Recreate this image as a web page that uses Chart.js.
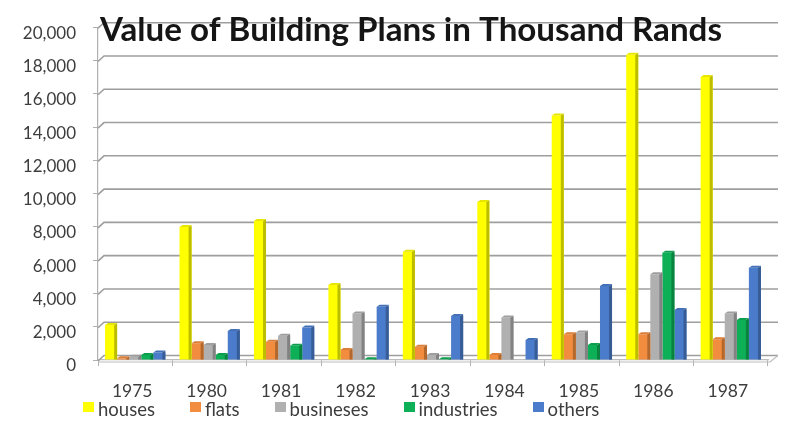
<!DOCTYPE html>
<html>
<head>
<meta charset="utf-8">
<script src="https://cdn.jsdelivr.net/npm/chart.js@4.4.0/dist/chart.umd.min.js"></script>
<style>
  html, body { margin: 0; padding: 0; background: #ffffff; }
  #wrap { position: relative; width: 794px; height: 428px; overflow: hidden; }
  #c { display: block; }
  #legend { position: absolute; left: 83px; top: 399px; display: flex; gap: 35px;
            font-family: Lato, sans-serif; font-size: 18.5px; line-height: 20px; color: #3d3d3d; white-space: nowrap; }
  #legend .item { display: flex; align-items: center; }
  #legend .box { display: inline-block; width: 11px; height: 10px; margin-right: 4px; position: relative; top: -2px; }
</style>
</head>
<body>
<div id="wrap">
  <canvas id="c" width="794" height="428"></canvas>
  <div id="legend"></div>
</div>
<script>
// ---- data ----
const chartTitle = 'Value of Building Plans in Thousand Rands';
const categories = ['1975', '1980', '1981', '1982', '1983', '1984', '1985', '1986', '1987'];
const seriesNames = ['houses', 'flats', 'busineses', 'industries', 'others'];
const houses     = [2100, 8000, 8350, 4500, 6500, 9500, 14700, 18350, 17000];
const flats      = [100, 1000, 1100, 600, 800, 300, 1550, 1550, 1250];
const businesses = [200, 900, 1450, 2800, 300, 2550, 1650, 5150, 2800];
const industries = [300, 300, 850, 50, 50, 0, 900, 6450, 2400];
const others     = [450, 1750, 1950, 3200, 2650, 1200, 4450, 3000, 5550];
const yTickValues = [0, 2000, 4000, 6000, 8000, 10000, 12000, 14000, 16000, 18000, 20000];
const seriesColors = ['#FFFF00', '#F28C3E', '#B0B0B0', '#0DB057', '#4A7CCB'];

const seriesData = [houses, flats, businesses, industries, others];

function shade(hex, f) {
  const n = parseInt(hex.slice(1), 16);
  const r = Math.round(((n >> 16) & 255) * f), g = Math.round(((n >> 8) & 255) * f), b = Math.round((n & 255) * f);
  return 'rgb(' + Math.min(255, r) + ',' + Math.min(255, g) + ',' + Math.min(255, b) + ')';
}

const D = 3, DY = 2;        // pseudo-3D depth of the columns
const WALL_DX = 6, WALL_DY = 4.5, WALL_EXT = 10; // back wall offset

const wallPlugin = {
  id: 'wall',
  beforeDatasetsDraw(chart) {
    const ctx = chart.ctx, ys = chart.scales.y, ca = chart.chartArea;
    ctx.save();
    ctx.strokeStyle = '#9e9e9e';
    ctx.lineWidth = 1.6;
    ys.ticks.forEach(t => {
      const p = ys.getPixelForValue(t.value);
      ctx.beginPath();
      ctx.moveTo(ca.left, p + 1);
      ctx.lineTo(ca.left + WALL_DX, p - WALL_DY);
      ctx.lineTo(ca.right + WALL_EXT, p - WALL_DY);
      ctx.stroke();
    });
    // floor right edge
    const p0 = ys.getPixelForValue(0);
    ctx.strokeStyle = '#bdbdbd';
    ctx.lineWidth = 1.2;
    ctx.beginPath();
    ctx.moveTo(ca.left, p0 + 2);
    ctx.lineTo(ca.right + 2, p0 + 2);
    ctx.lineTo(ca.right + WALL_EXT, p0 - WALL_DY);
    ctx.stroke();
    ctx.restore();
  }
};

const columnPlugin = {
  id: 'columns3d',
  afterDatasetsDraw(chart) {
    const ctx = chart.ctx;
    ctx.save();
    chart.data.datasets.forEach((ds, i) => {
      const meta = chart.getDatasetMeta(i);
      const col = seriesColors[i];
      meta.data.forEach((el, j) => {
        if (!ds.data[j]) return;
        const p = el.getProps(['x', 'y', 'base', 'width'], true);
        const l = p.x - p.width / 2, r = p.x + p.width / 2;
        // side face
        ctx.fillStyle = shade(col, 0.74);
        ctx.beginPath();
        ctx.moveTo(r - D, p.y);
        ctx.lineTo(r, p.y - DY);
        ctx.lineTo(r, p.base);
        ctx.lineTo(r - D, p.base);
        ctx.closePath();
        ctx.fill();
        // top face
        ctx.fillStyle = shade(col, 0.9);
        ctx.beginPath();
        ctx.moveTo(l, p.y);
        ctx.lineTo(l + D, p.y - DY);
        ctx.lineTo(r, p.y - DY);
        ctx.lineTo(r - D, p.y);
        ctx.closePath();
        ctx.fill();
      });
    });
    ctx.restore();
  }
};

const titlePlugin = {
  id: 'overTitle',
  afterDraw(chart) {
    const ctx = chart.ctx;
    ctx.save();
    ctx.font = 'bold 32px Lato, sans-serif';
    ctx.fillStyle = '#151515';
    ctx.textBaseline = 'alphabetic';
    const w = ctx.measureText(chartTitle).width;
    const target = 622;
    ctx.translate(100, 41);
    ctx.scale(target / w, 1);
    ctx.fillText(chartTitle, 0, 0);
    ctx.restore();
  }
};

const chart = new Chart(document.getElementById('c'), {
  type: 'bar',
  data: {
    labels: categories,
    datasets: seriesNames.map((name, i) => ({
      label: name,
      data: seriesData[i],
      backgroundColor: seriesColors[i],
      borderWidth: 0,
      barPercentage: 1.0,
      categoryPercentage: 0.81
    }))
  },
  options: {
    responsive: false,
    devicePixelRatio: 1,
    animation: false,
    layout: { padding: { top: 10, right: 26, bottom: 0, left: 0 } },
    plugins: {
      legend: { display: false },
      title: { display: false },
      tooltip: { enabled: false }
    },
    scales: {
      x: {
        grid: { display: true, drawOnChartArea: false, drawTicks: true, tickLength: 6, color: '#b0b0b0', offset: true },
        border: { display: true, color: '#bdbdbd', width: 1.2 },
        ticks: { color: '#3d3d3d', font: { family: 'Lato', size: 17.5 }, padding: 15, labelOffset: -3, maxRotation: 0 },
        afterFit(s) { s.height = 68; }
      },
      y: {
        min: 0, max: 20000,
        afterBuildTicks(s) { s.ticks = yTickValues.map(v => ({ value: v })); },
        grid: { display: true, drawOnChartArea: false, drawTicks: true, tickLength: 5, color: '#b0b0b0' },
        border: { display: true, color: '#b0b0b0', width: 1.2 },
        ticks: {
          color: '#3d3d3d', font: { family: 'Lato', size: 17 }, padding: 17, labelOffset: 6,
          callback: v => Number(v).toLocaleString('en-US')
        },
        afterFit(s) { s.width = 98; }
      }
    }
  },
  plugins: [wallPlugin, columnPlugin, titlePlugin]
});

// HTML legend built from the chart's datasets
const legendEl = document.getElementById('legend');
chart.data.datasets.forEach(ds => {
  const item = document.createElement('span');
  item.className = 'item';
  const box = document.createElement('span');
  box.className = 'box';
  box.style.background = ds.backgroundColor;
  item.appendChild(box);
  item.appendChild(document.createTextNode(ds.label));
  legendEl.appendChild(item);
});
</script>
</body>
</html>
